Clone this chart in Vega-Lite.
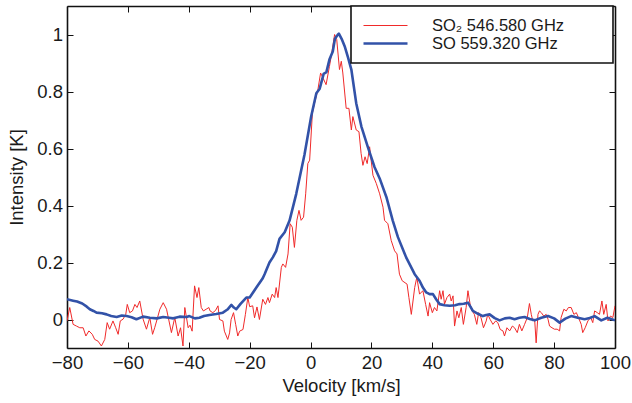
{
  "$schema": "https://vega.github.io/schema/vega-lite/v6.json",
  "width": 548,
  "height": 342,
  "autosize": "none",
  "padding": {"left": 67, "top": 6, "right": 17, "bottom": 55},
  "background": "white",
  "datasets": {
    "so2": [
      {"v": -80, "t": -0.005}, {"v": -79.1, "t": 0.042}, {"v": -78.0, "t": -0.017}, {"v": -76.9, "t": -0.023},
      {"v": -75.8, "t": -0.029}, {"v": -74.7, "t": -0.029}, {"v": -73.8, "t": -0.058}, {"v": -72.8, "t": -0.04},
      {"v": -71.7, "t": -0.052}, {"v": -70.9, "t": -0.07}, {"v": -69.8, "t": -0.076}, {"v": -68.7, "t": -0.093},
      {"v": -67.6, "t": -0.07}, {"v": -66.8, "t": -0.011}, {"v": -66.0, "t": -0.034}, {"v": -64.9, "t": -0.005},
      {"v": -64.0, "t": -0.029}, {"v": -63.2, "t": -0.052}, {"v": -62.5, "t": -0.005}, {"v": -61.6, "t": 0.001},
      {"v": -60.7, "t": 0.018}, {"v": -60.2, "t": 0.053}, {"v": -59.4, "t": 0.024}, {"v": -58.5, "t": 0.03},
      {"v": -57.7, "t": 0.053}, {"v": -57.0, "t": 0.042}, {"v": -56.1, "t": 0.065}, {"v": -55.0, "t": 0.001},
      {"v": -53.9, "t": -0.034}, {"v": -52.8, "t": 0.007}, {"v": -51.9, "t": -0.052}, {"v": -51.2, "t": -0.029},
      {"v": -50.4, "t": 0.001}, {"v": -49.5, "t": 0.036}, {"v": -48.4, "t": 0.059}, {"v": -47.3, "t": 0.036},
      {"v": -46.5, "t": -0.005}, {"v": -45.7, "t": -0.046}, {"v": -44.6, "t": 0.007}, {"v": -43.5, "t": -0.058},
      {"v": -42.7, "t": -0.029}, {"v": -41.9, "t": -0.093}, {"v": -41.3, "t": 0.042}, {"v": -40.2, "t": -0.029},
      {"v": -39.6, "t": -0.02}, {"v": -38.9, "t": -0.041}, {"v": -38.1, "t": 0.118}, {"v": -37.3, "t": 0.077},
      {"v": -36.7, "t": 0.112}, {"v": -35.9, "t": 0.042}, {"v": -35.2, "t": 0.03}, {"v": -34.3, "t": 0.036},
      {"v": -33.4, "t": 0.042}, {"v": -33.0, "t": 0.03}, {"v": -32.1, "t": 0.024}, {"v": -31.2, "t": 0.032},
      {"v": -30.4, "t": 0.048}, {"v": -29.9, "t": 0.0}, {"v": -28.8, "t": -0.005}, {"v": -28.3, "t": -0.041},
      {"v": -27.2, "t": -0.07}, {"v": -26.6, "t": -0.047}, {"v": -26.1, "t": 0.0}, {"v": -25.3, "t": 0.024},
      {"v": -24.6, "t": -0.017}, {"v": -23.9, "t": -0.058}, {"v": -23.3, "t": -0.041}, {"v": -22.2, "t": -0.035},
      {"v": -21.4, "t": 0.018}, {"v": -20.6, "t": 0.077}, {"v": -20.0, "t": 0.045}, {"v": -19.0, "t": 0.048},
      {"v": -18.4, "t": 0.006}, {"v": -17.6, "t": 0.044}, {"v": -16.8, "t": 0.0}, {"v": -15.7, "t": 0.071},
      {"v": -14.8, "t": 0.053}, {"v": -14.0, "t": 0.077}, {"v": -13.5, "t": 0.059}, {"v": -12.6, "t": 0.089},
      {"v": -11.8, "t": 0.077}, {"v": -11.3, "t": 0.112}, {"v": -10.7, "t": 0.077}, {"v": -9.6, "t": 0.183},
      {"v": -9.1, "t": 0.195}, {"v": -8.2, "t": 0.183}, {"v": -7.4, "t": 0.23}, {"v": -6.7, "t": 0.336},
      {"v": -6.0, "t": 0.324}, {"v": -5.3, "t": 0.253}, {"v": -4.5, "t": 0.348}, {"v": -3.8, "t": 0.383},
      {"v": -3.1, "t": 0.348}, {"v": -2.3, "t": 0.359}, {"v": -1.6, "t": 0.441}, {"v": -0.9, "t": 0.547},
      {"v": -0.3, "t": 0.559}, {"v": 0.6, "t": 0.724}, {"v": 1.3, "t": 0.759}, {"v": 2.4, "t": 0.806},
      {"v": 3.3, "t": 0.865}, {"v": 4.1, "t": 0.847}, {"v": 5.1, "t": 0.824}, {"v": 6.2, "t": 0.888},
      {"v": 6.8, "t": 0.924}, {"v": 7.9, "t": 1.0}, {"v": 8.6, "t": 0.982}, {"v": 9.5, "t": 0.877},
      {"v": 10.1, "t": 0.906}, {"v": 10.6, "t": 0.865}, {"v": 11.7, "t": 0.741}, {"v": 12.6, "t": 0.741},
      {"v": 13.4, "t": 0.665}, {"v": 13.9, "t": 0.712}, {"v": 15.0, "t": 0.665}, {"v": 15.9, "t": 0.659},
      {"v": 16.6, "t": 0.583}, {"v": 17.2, "t": 0.541}, {"v": 17.9, "t": 0.571}, {"v": 18.6, "t": 0.547},
      {"v": 19.4, "t": 0.606}, {"v": 19.9, "t": 0.559}, {"v": 20.5, "t": 0.506}, {"v": 21.6, "t": 0.477},
      {"v": 22.7, "t": 0.441}, {"v": 23.8, "t": 0.394}, {"v": 24.3, "t": 0.348}, {"v": 25.4, "t": 0.336},
      {"v": 26.5, "t": 0.277}, {"v": 27.6, "t": 0.241}, {"v": 28.4, "t": 0.23}, {"v": 29.2, "t": 0.159},
      {"v": 30.1, "t": 0.136}, {"v": 31.7, "t": 0.124}, {"v": 32.3, "t": 0.077}, {"v": 33.1, "t": 0.018},
      {"v": 34.2, "t": 0.112}, {"v": 34.9, "t": 0.148}, {"v": 35.8, "t": 0.089}, {"v": 36.9, "t": 0.101},
      {"v": 37.8, "t": 0.053}, {"v": 38.6, "t": 0.012}, {"v": 39.1, "t": 0.059}, {"v": 40.0, "t": 0.024},
      {"v": 40.7, "t": 0.042}, {"v": 41.5, "t": 0.03}, {"v": 42.4, "t": 0.101}, {"v": 42.9, "t": 0.071},
      {"v": 43.5, "t": 0.101}, {"v": 44.0, "t": 0.054}, {"v": 44.8, "t": 0.077}, {"v": 45.7, "t": 0.089},
      {"v": 46.2, "t": 0.065}, {"v": 46.8, "t": 0.083}, {"v": 47.3, "t": -0.023}, {"v": 48.1, "t": 0.03},
      {"v": 48.7, "t": 0.006}, {"v": 49.5, "t": 0.042}, {"v": 50.2, "t": -0.017}, {"v": 51.1, "t": 0.042},
      {"v": 51.7, "t": 0.101}, {"v": 52.4, "t": 0.054}, {"v": 53.1, "t": 0.03}, {"v": 53.8, "t": 0.018},
      {"v": 54.6, "t": -0.017}, {"v": 55.2, "t": 0.024}, {"v": 56.0, "t": 0.006}, {"v": 56.8, "t": -0.029},
      {"v": 57.7, "t": -0.005}, {"v": 58.2, "t": 0.018}, {"v": 59.0, "t": 0.0}, {"v": 59.9, "t": -0.017},
      {"v": 60.8, "t": -0.005}, {"v": 61.5, "t": -0.011}, {"v": 62.3, "t": -0.035}, {"v": 63.2, "t": -0.04},
      {"v": 63.7, "t": -0.058}, {"v": 64.5, "t": -0.029}, {"v": 65.4, "t": -0.04}, {"v": 66.3, "t": -0.023},
      {"v": 67.0, "t": -0.029}, {"v": 67.9, "t": -0.046}, {"v": 68.6, "t": -0.017}, {"v": 69.4, "t": -0.04},
      {"v": 70.3, "t": -0.017}, {"v": 71.2, "t": 0.007}, {"v": 71.9, "t": 0.056}, {"v": 72.5, "t": 0.018},
      {"v": 73.0, "t": -0.005}, {"v": 73.6, "t": 0.001}, {"v": 74.1, "t": -0.082}, {"v": 74.7, "t": 0.018},
      {"v": 75.2, "t": 0.03}, {"v": 75.8, "t": 0.024}, {"v": 76.6, "t": 0.012}, {"v": 77.4, "t": 0.018},
      {"v": 78.0, "t": 0.001}, {"v": 78.5, "t": -0.023}, {"v": 79.3, "t": -0.029}, {"v": 80.1, "t": -0.034},
      {"v": 81.0, "t": -0.034}, {"v": 81.8, "t": -0.04}, {"v": 82.3, "t": 0.007}, {"v": 83.2, "t": 0.036},
      {"v": 84.0, "t": 0.03}, {"v": 84.7, "t": 0.042}, {"v": 85.6, "t": 0.042}, {"v": 86.5, "t": 0.018},
      {"v": 87.3, "t": 0.024}, {"v": 88.0, "t": 0.007}, {"v": 88.9, "t": -0.017}, {"v": 89.4, "t": -0.046},
      {"v": 90.2, "t": -0.029}, {"v": 91.1, "t": -0.005}, {"v": 92.0, "t": 0.007}, {"v": 92.7, "t": -0.011},
      {"v": 93.3, "t": 0.03}, {"v": 94.2, "t": 0.024}, {"v": 94.9, "t": 0.018}, {"v": 95.7, "t": 0.065},
      {"v": 96.3, "t": 0.018}, {"v": 97.1, "t": 0.053}, {"v": 97.7, "t": -0.005}, {"v": 98.5, "t": 0.012},
      {"v": 99.3, "t": 0.007}, {"v": 100.0, "t": 0.048}
    ],
    "so": [
      {"v": -80, "t": 0.071}, {"v": -78, "t": 0.066}, {"v": -76.7, "t": 0.063}, {"v": -75, "t": 0.056},
      {"v": -73.5, "t": 0.045}, {"v": -72.5, "t": 0.036}, {"v": -71.3, "t": 0.03}, {"v": -70.3, "t": 0.024},
      {"v": -68.5, "t": 0.022}, {"v": -67, "t": 0.018}, {"v": -65.5, "t": 0.012}, {"v": -63.7, "t": 0.009},
      {"v": -62, "t": 0.014}, {"v": -60.4, "t": 0.012}, {"v": -58.8, "t": 0.008}, {"v": -57.2, "t": 0.001},
      {"v": -55, "t": 0.01}, {"v": -52.8, "t": 0.006}, {"v": -50.5, "t": 0.004}, {"v": -48.4, "t": 0.009},
      {"v": -46.5, "t": 0.006}, {"v": -45.1, "t": 0.004}, {"v": -43, "t": 0.01}, {"v": -40.7, "t": 0.009},
      {"v": -39.8, "t": 0.012}, {"v": -38, "t": 0.004}, {"v": -36.5, "t": 0.006}, {"v": -35, "t": 0.012},
      {"v": -33.2, "t": 0.016}, {"v": -31, "t": 0.019}, {"v": -28.8, "t": 0.024}, {"v": -27.3, "t": 0.035},
      {"v": -26, "t": 0.051}, {"v": -25.2, "t": 0.042}, {"v": -24.4, "t": 0.036}, {"v": -23, "t": 0.055},
      {"v": -21.1, "t": 0.077}, {"v": -20, "t": 0.077}, {"v": -17.8, "t": 0.112}, {"v": -15.7, "t": 0.145},
      {"v": -15.1, "t": 0.159}, {"v": -13.5, "t": 0.2}, {"v": -12.4, "t": 0.218}, {"v": -11.3, "t": 0.24},
      {"v": -10.2, "t": 0.283}, {"v": -8.5, "t": 0.306}, {"v": -6.9, "t": 0.347}, {"v": -4.7, "t": 0.441},
      {"v": -2.0, "t": 0.578}, {"v": 0.2, "t": 0.712}, {"v": 1.9, "t": 0.794}, {"v": 3.0, "t": 0.81},
      {"v": 4.3, "t": 0.862}, {"v": 5.2, "t": 0.868}, {"v": 6.2, "t": 0.912}, {"v": 7.3, "t": 0.94},
      {"v": 8.0, "t": 0.985}, {"v": 9.0, "t": 1.0}, {"v": 9.3, "t": 1.003}, {"v": 10.2, "t": 0.985},
      {"v": 11.2, "t": 0.959}, {"v": 12.3, "t": 0.92}, {"v": 13.4, "t": 0.877}, {"v": 15.0, "t": 0.759},
      {"v": 16.7, "t": 0.677}, {"v": 18.8, "t": 0.606}, {"v": 21.0, "t": 0.535}, {"v": 22.7, "t": 0.495},
      {"v": 24.9, "t": 0.43}, {"v": 27.0, "t": 0.347}, {"v": 28.7, "t": 0.289}, {"v": 31.4, "t": 0.218},
      {"v": 34.2, "t": 0.159}, {"v": 35.8, "t": 0.136}, {"v": 36.9, "t": 0.112}, {"v": 38.0, "t": 0.095},
      {"v": 39.1, "t": 0.089}, {"v": 40.2, "t": 0.089}, {"v": 41.3, "t": 0.07}, {"v": 42.4, "t": 0.054},
      {"v": 44, "t": 0.05}, {"v": 45.7, "t": 0.048}, {"v": 47.5, "t": 0.05}, {"v": 48.9, "t": 0.054},
      {"v": 50.3, "t": 0.055}, {"v": 51.7, "t": 0.059}, {"v": 52.5, "t": 0.045}, {"v": 53.3, "t": 0.03},
      {"v": 55, "t": 0.02}, {"v": 56.6, "t": 0.012}, {"v": 57.7, "t": 0.016}, {"v": 58.8, "t": 0.018},
      {"v": 60.5, "t": 0.005}, {"v": 62.1, "t": -0.003}, {"v": 63.8, "t": 0.004}, {"v": 65.4, "t": 0.006},
      {"v": 67.0, "t": 0.001}, {"v": 68.6, "t": 0.006}, {"v": 70.3, "t": 0.009}, {"v": 72, "t": 0.002},
      {"v": 73.6, "t": -0.003}, {"v": 75.8, "t": 0.006}, {"v": 78, "t": 0.012}, {"v": 80, "t": 0.004},
      {"v": 81.8, "t": -0.011}, {"v": 83.7, "t": 0.003}, {"v": 85.6, "t": 0.012}, {"v": 87.8, "t": 0.006},
      {"v": 90, "t": 0.001}, {"v": 91.7, "t": 0.005}, {"v": 93.3, "t": 0.012}, {"v": 95.5, "t": -0.003},
      {"v": 97.5, "t": 0.006}, {"v": 100, "t": -0.003}
    ]
  },
  "layer": [
    {
      "data": {"name": "so2"},
      "mark": {"type": "line", "clip": true, "strokeJoin": "round"},
      "encoding": {
        "x": {
          "field": "v", "type": "quantitative",
          "scale": {"domain": [-80, 100], "nice": false, "zero": false},
          "axis": {"orient": "bottom", "title": "Velocity [km/s]", "values": [-80, -60, -40, -20, 0, 20, 40, 60, 80, 100],
                   "labelFlush": false, "labelOverlap": false, "labelPadding": 11, "titlePadding": 5}
        },
        "y": {
          "field": "t", "type": "quantitative",
          "scale": {"domain": [-0.1, 1.1], "nice": false, "zero": false},
          "axis": {"orient": "left", "title": "Intensity [K]", "values": [0, 0.2, 0.4, 0.6, 0.8, 1], "format": "~g",
                   "labelFlush": false, "labelOverlap": false, "labelPadding": 10.5, "titlePadding": 10}
        },
        "color": {
          "datum": "SO₂ 546.580 GHz", "type": "nominal",
          "scale": {"domain": ["SO₂ 546.580 GHz", "SO 559.320 GHz"], "range": ["#f02a2a", "#3252a8"]},
          "legend": {"title": null, "orient": "none", "legendX": 284, "legendY": 0,
                     "labelExpr": "datum.label + '\u2003\u2003\u2005\u200b'"}
        },
        "strokeWidth": {
          "datum": "SO₂ 546.580 GHz", "type": "ordinal",
          "scale": {"domain": ["SO₂ 546.580 GHz", "SO 559.320 GHz"], "range": [1, 2.6]},
          "legend": {"title": null, "orient": "none", "legendX": 284, "legendY": 0,
                     "labelExpr": "datum.label + '\u2003\u2003\u2005\u200b'"}
        }
      }
    },
    {
      "data": {"name": "so"},
      "mark": {"type": "line", "clip": true, "strokeJoin": "round"},
      "encoding": {
        "x": {
          "field": "v", "type": "quantitative",
          "axis": {"orient": "top", "title": null, "labels": false, "values": [-80, -60, -40, -20, 0, 20, 40, 60, 80, 100]}
        },
        "y": {
          "field": "t", "type": "quantitative",
          "axis": {"orient": "right", "title": null, "labels": false, "values": [0, 0.2, 0.4, 0.6, 0.8, 1]}
        },
        "color": {"datum": "SO 559.320 GHz", "type": "nominal"},
        "strokeWidth": {"datum": "SO 559.320 GHz", "type": "ordinal"}
      }
    }
  ],
  "resolve": {"axis": {"x": "independent", "y": "independent"}},
  "config": {
    "view": {"stroke": null},
    "axis": {
      "labelFont": "Liberation Sans", "labelFontSize": 18.5, "labelColor": "#1a1a1a",
      "titleFont": "Liberation Sans", "titleFontSize": 18.5, "titleFontWeight": "normal", "titleColor": "#1a1a1a",
      "grid": false, "domainColor": "#111111", "domainWidth": 1.6,
      "tickColor": "#111111", "tickWidth": 1, "tickSize": -6
    },
    "legend": {
      "labelFont": "Liberation Sans", "labelFontSize": 16.5, "labelColor": "#1a1a1a", "labelLimit": 400,
      "strokeColor": "#111111", "fillColor": "white", "strokeWidth": 1.6,
      "padding": 11, "rowPadding": 0, "labelOffset": 51,
      "symbolType": "M-1,0H4.5", "symbolSize": 256
    }
  }
}
